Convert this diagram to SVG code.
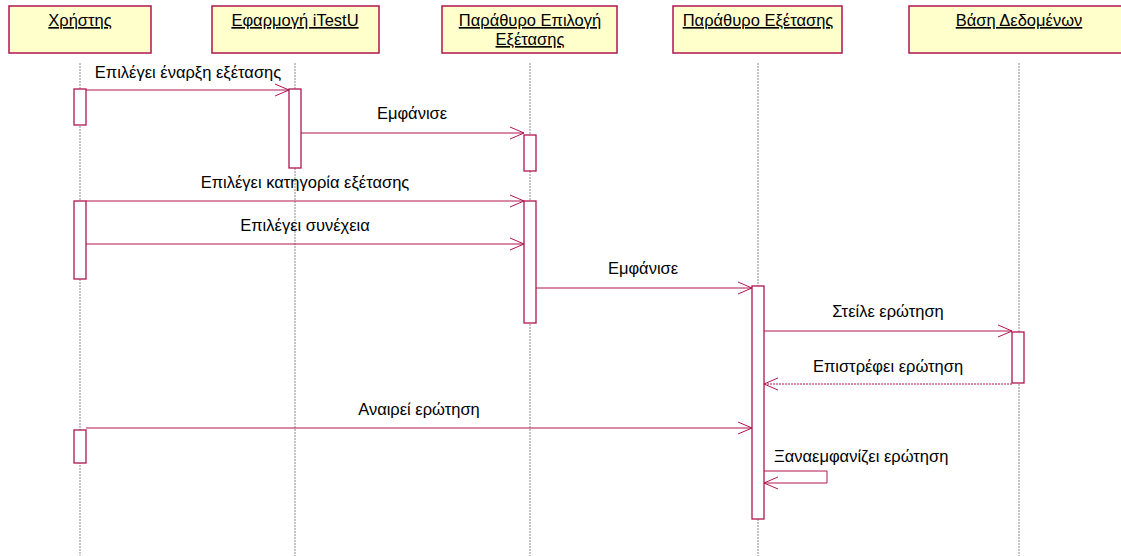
<svg xmlns="http://www.w3.org/2000/svg" width="1121" height="556" viewBox="0 0 1121 556">
  <style>
    .head { fill: #ffffcc; stroke: #b0154f; stroke-width: 1.5; }
    .htxt { font-family: "Liberation Sans", Arial, sans-serif; font-size: 16.5px; fill: #000; text-anchor: middle; text-decoration: underline; }
    .life { stroke: #8a8a8a; stroke-width: 1; stroke-dasharray: 2 1; fill: none; }
    .act { fill: #ffffff; stroke: #b0154f; stroke-width: 1.3; }
    .msg { stroke: #b0154f; stroke-width: 1; fill: none; }
    .ret { stroke: #b0154f; stroke-width: 1; fill: none; stroke-dasharray: 2 1; }
    .lbl { font-family: "Liberation Sans", Arial, sans-serif; font-size: 16.5px; fill: #000; text-anchor: middle; }
    .lbl-start { text-anchor: start; }
  </style>
  <defs>
    <marker id="open" markerWidth="16" markerHeight="14" refX="15" refY="7" orient="auto" markerUnits="userSpaceOnUse">
      <path d="M1,1 L15,7 L1,13" fill="none" stroke="#b0154f" stroke-width="1"/>
    </marker>
  </defs>
  <rect width="1121" height="556" fill="#ffffff"/>

  <!-- lifelines -->
  <g id="lifelines">
    <line class="life" x1="80" y1="63" x2="80" y2="556"/>
    <line class="life" x1="295" y1="63" x2="295" y2="556"/>
    <line class="life" x1="530" y1="63" x2="530" y2="556"/>
    <line class="life" x1="758" y1="63" x2="758" y2="556"/>
    <line class="life" x1="1019" y1="63" x2="1019" y2="556"/>
  </g>

  <!-- participants -->
  <g id="user">
    <rect class="head" x="9" y="6" width="142" height="47"/>
    <text class="htxt" x="80" y="26">Χρήστης</text>
    <rect class="act" x="74" y="89" width="12" height="36"/>
    <rect class="act" x="74" y="201" width="12" height="78"/>
    <rect class="act" x="74" y="430" width="12" height="33"/>
  </g>
  <g id="app">
    <rect class="head" x="212" y="6" width="167" height="47"/>
    <text class="htxt" x="295" y="26">Εφαρμογή iTestU</text>
    <rect class="act" x="289" y="89" width="12" height="79"/>
  </g>
  <g id="selectwin">
    <rect class="head" x="442" y="6" width="175" height="47"/>
    <text class="htxt" x="530" y="26">Παράθυρο Επιλογή </text>
    <text class="htxt" x="530" y="45">Εξέτασης</text>
    <rect class="act" x="524" y="135" width="12" height="36"/>
    <rect class="act" x="524" y="201" width="12" height="122"/>
  </g>
  <g id="examwin">
    <rect class="head" x="673" y="6" width="169" height="47"/>
    <text class="htxt" x="758" y="26">Παράθυρο Εξέτασης</text>
    <rect class="act" x="752" y="286" width="12" height="233"/>
  </g>
  <g id="database">
    <rect class="head" x="909" y="6" width="220" height="47"/>
    <text class="htxt" x="1019" y="26">Βάση Δεδομένων</text>
    <rect class="act" x="1012" y="332" width="12" height="51"/>
  </g>

  <!-- messages -->
  <g id="connectors">
    <line class="msg" x1="86" y1="90" x2="289" y2="90" marker-end="url(#open)"/>
    <text class="lbl" x="188" y="78">Επιλέγει έναρξη εξέτασης</text>

    <line class="msg" x1="301" y1="133" x2="524" y2="133" marker-end="url(#open)"/>
    <text class="lbl" x="412" y="119">Εμφάνισε</text>

    <line class="msg" x1="86" y1="201" x2="524" y2="201" marker-end="url(#open)"/>
    <text class="lbl" x="305" y="188">Επιλέγει κατηγορία εξέτασης</text>

    <line class="msg" x1="86" y1="244" x2="524" y2="244" marker-end="url(#open)"/>
    <text class="lbl" x="305" y="231">Επιλέγει συνέχεια</text>

    <line class="msg" x1="536" y1="288" x2="752" y2="288" marker-end="url(#open)"/>
    <text class="lbl" x="643" y="274">Εμφάνισε</text>

    <line class="msg" x1="764" y1="331" x2="1012" y2="331" marker-end="url(#open)"/>
    <text class="lbl" x="888" y="317">Στείλε ερώτηση</text>

    <line class="ret" x1="1012" y1="384" x2="764" y2="384" marker-end="url(#open)"/>
    <text class="lbl" x="888" y="372">Επιστρέφει ερώτηση</text>

    <line class="msg" x1="86" y1="428" x2="752" y2="428" marker-end="url(#open)"/>
    <text class="lbl" x="419" y="415">Αναιρεί ερώτηση</text>

    <polyline class="msg" points="764,471 827,471 827,483 764,483" marker-end="url(#open)"/>
    <text class="lbl lbl-start" x="774" y="462">Ξαναεμφανίζει ερώτηση</text>
  </g>
</svg>
